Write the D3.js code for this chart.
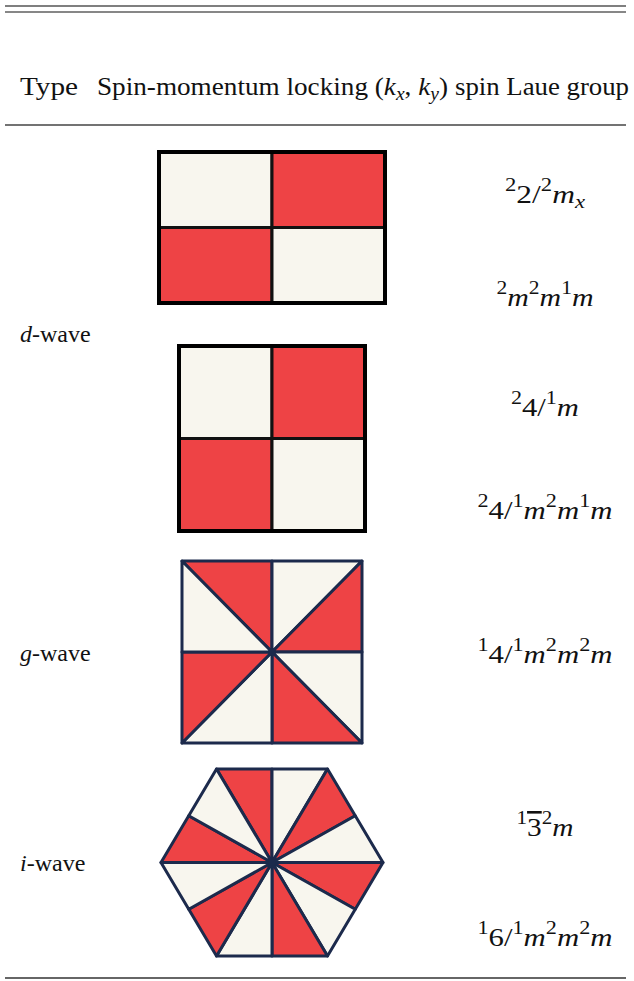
<!DOCTYPE html>
<html>
<head>
  <meta charset="utf-8">
  <title>Spin Laue groups</title>
  <script src="https://d3js.org/d3.v7.min.js"></script>
  <style>
    body { margin: 0; background: #fff; }
    svg text { font-family: "Liberation Serif", "DejaVu Serif", serif; fill: #111; white-space: pre; }
  </style>
</head>
<body>
  <svg width="634" height="981"></svg>

  <script>
    // markup: ^ superscript, _ subscript, * italic, ~ overline, pieces split by |
    const headers = ["Type", "Spin-momentum locking (|*k|_*x|, |*k|_*y|)", "spin Laue group"];
    const waveTypes = ["*d|-wave", "*g|-wave", "*i|-wave"];
    const laueGroups = [
      "^2|2/|^2|*m|_*x",
      "^2|*m|^2|*m|^1|*m",
      "^2|4/|^1|*m",
      "^2|4/|^1|*m|^2|*m|^1|*m",
      "^1|4/|^1|*m|^2|*m|^2|*m",
      "^1|~3|^2|*m",
      "^1|6/|^1|*m|^2|*m|^2|*m"
    ];
    // spin sign of each region (+1 red, -1 cream)
    const dwaveCells = [[-1, 1], [1, -1]];
    const gwaveSectors = [1, -1, 1, -1, 1, -1, 1, -1];
    const iwaveSectors = [1, -1, 1, -1, 1, -1, 1, -1, 1, -1, 1, -1];

    const red = "#ee4345", cream = "#f8f6ee", navy = "#1c2a4c";
    const color = d3.scaleOrdinal().domain([1, -1]).range([red, cream]);

    const svg = d3.select("svg");
    svg.append("rect").attr("width", 634).attr("height", 981).attr("fill", "#fff");

    function rich(sel, markup, size) {
      let shift = 0;
      markup.split("|").forEach(p => {
        let kind = "n", italic = false, over = false;
        if (p[0] === "^") { kind = "sup"; p = p.slice(1); }
        else if (p[0] === "_") { kind = "sub"; p = p.slice(1); }
        if (p[0] === "*") { italic = true; p = p.slice(1); }
        if (p[0] === "~") { over = true; p = p.slice(1); }
        const target = kind === "sup" ? -0.45 * size : kind === "sub" ? 0.2 * size : 0;
        sel.append("tspan")
          .attr("dy", target - shift)
          .attr("font-size", kind === "n" ? size : size * 0.72)
          .attr("font-style", italic ? "italic" : null)
          .attr("text-decoration", over ? "overline" : null)
          .text(p);
        shift = target;
      });
    }

    // rules
    const rules = [
      { y: 6, w: 1.4, c: "#555" }, { y: 12, w: 1.2, c: "#111" },
      { y: 125, w: 1.3, c: "#444" }, { y: 978, w: 1.3, c: "#333" }
    ];
    svg.selectAll("line.rule").data(rules).enter().append("line")
      .attr("x1", 5).attr("x2", 626)
      .attr("y1", d => d.y).attr("y2", d => d.y)
      .attr("stroke", d => d.c).attr("stroke-width", d => d.w);

    // header
    const headX = [20, 97, 455], headW = [58, 351, 174];
    headers.forEach((h, i) => {
      const t = svg.append("text").attr("x", headX[i]).attr("y", 95);
      rich(t, h, 25);
      t.attr("textLength", headW[i]).attr("lengthAdjust", "spacingAndGlyphs");
    });

    // row labels
    const typeY = [342, 661, 871];
    waveTypes.forEach((w, i) => {
      const t = svg.append("text").attr("x", 20).attr("y", typeY[i]);
      rich(t, w, 24);
    });

    // group labels
    const groupY = [203, 306, 416, 519, 663, 836, 946];
    const groupW = [80, 97, 68, 135, 135, 57, 135];
    laueGroups.forEach((g, i) => {
      const t = svg.append("text").attr("x", 545 - groupW[i] / 2).attr("y", groupY[i]);
      rich(t, g, 26);
      t.attr("textLength", groupW[i]).attr("lengthAdjust", "spacingAndGlyphs");
    });

    // d-wave checkerboards
    function checker(box) {
      const x = d3.scaleLinear().domain([0, 2]).range([box.x0, box.x1]);
      const y = d3.scaleLinear().domain([0, 2]).range([box.y0, box.y1]);
      const cells = dwaveCells.flatMap((row, r) => row.map((s, c) => ({ r, c, s })));
      const g = svg.append("g");
      g.selectAll("rect.cell").data(cells).enter().append("rect")
        .attr("x", d => x(d.c)).attr("y", d => y(d.r))
        .attr("width", x(1) - x(0)).attr("height", y(1) - y(0))
        .attr("fill", d => color(d.s))
        .attr("stroke", "#111").attr("stroke-width", 3);
      g.append("rect")
        .attr("x", x(0)).attr("y", y(0))
        .attr("width", x(2) - x(0)).attr("height", y(2) - y(0))
        .attr("fill", "none").attr("stroke", "#000").attr("stroke-width", 4);
    }
    checker({ x0: 159, x1: 385, y0: 152, y1: 303 });
    checker({ x0: 179, x1: 365, y0: 346, y1: 531 });

    // pinwheels
    function pinwheel(box, ring, signs) {
      const x = d3.scaleLinear().domain([-1, 1]).range([box.x0, box.x1]);
      const y = d3.scaleLinear().domain([-1, 1]).range([box.y0, box.y1]);
      const sectors = signs.map((s, i) => {
        const a = ring[i], b = ring[(i + 1) % ring.length];
        return { s, pts: [[0, 0], a, b] };
      });
      const g = svg.append("g");
      g.selectAll("path").data(sectors).enter().append("path")
        .attr("d", d => "M" + d.pts.map(p => [x(p[0]), y(p[1])].join(",")).join("L") + "Z")
        .attr("fill", d => color(d.s))
        .attr("stroke", navy).attr("stroke-width", 3)
        .attr("stroke-linejoin", "round");
      g.append("circle").attr("cx", x(0)).attr("cy", y(0)).attr("r", 3.5).attr("fill", navy);
    }
    const squareRing = [[-1, -1], [0, -1], [1, -1], [1, 0], [1, 1], [0, 1], [-1, 1], [-1, 0]];
    const hexRing = [[-0.5, -1], [0, -1], [0.5, -1], [0.75, -0.5], [1, 0], [0.75, 0.5],
                     [0.5, 1], [0, 1], [-0.5, 1], [-0.75, 0.5], [-1, 0], [-0.75, -0.5]];
    pinwheel({ x0: 182, x1: 362, y0: 561, y1: 743 }, squareRing, gwaveSectors);
    pinwheel({ x0: 161, x1: 383, y0: 769, y1: 956 }, hexRing, iwaveSectors);
  </script>
</body>
</html>
